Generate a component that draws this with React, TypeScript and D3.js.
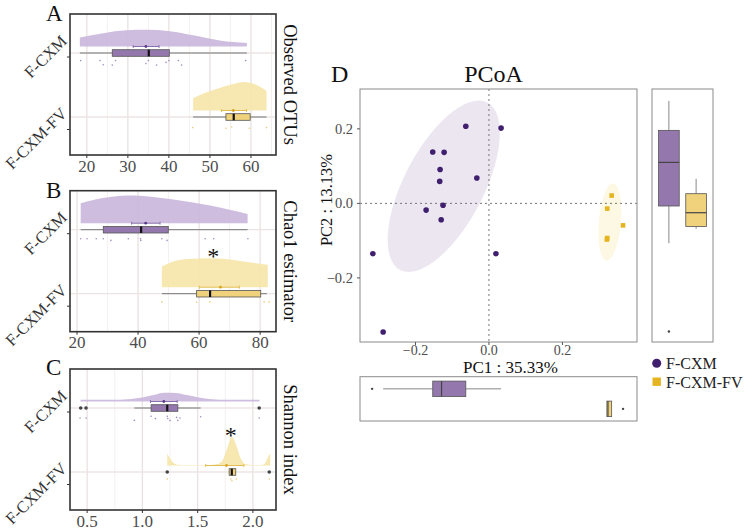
import React from 'react';
import * as d3 from 'd3';

const W = 749, H = 531;
const FONT = "'Liberation Serif', 'Times New Roman', serif";

const groups = ['F-CXM', 'F-CXM-FV'];
const fillDens = ['#c9b6da', '#f6e4a8'];
const fillBox = ['#9478ad', '#f0d27c'];
const dotCol = ['#8a70ad', '#e2bf55'];

// ---- panel A: Observed OTUs
const otuTicks = [20, 30, 40, 50, 60];
const otuMinor = [25, 35, 45, 55, 65];
const otuDensCXM = [[18.3, 0.31], [24, 0.46], [29.7, 0.56], [34.6, 0.575], [40.2, 0.53], [45.9, 0.39], [52.4, 0.21], [59, 0.12]];
const otuDensFV = [[45.9, 0.42], [48.7, 0.6], [51.6, 0.74], [55.7, 0.91], [58.1, 0.98], [61.4, 0.88], [63.8, 0.67]];
const otuStats = [
  { min: 18.3, q1: 26.2, med: 35.1, q3: 40.1, max: 59, lo: 31.3, mean: 34.4, hi: 37.6 },
  { min: 45.9, q1: 53.9, med: 55.8, q3: 59.8, max: 63.8, lo: 52.8, mean: 55.7, hi: 58.9 },
];
const otuPtsCXM = [18.5, 23.2, 24.0, 26.2, 27.0, 34.4, 35.0, 37.0, 39.3, 40.0, 42.3, 43.1, 58.7];
const otuJitCXM = [0.1, 0.1, 0.8, 0.85, 0.1, 0.6, 0.1, 0.85, 0.4, 0.1, 0.1, 0.85, 0.1];
const otuPtsFV = [45.8, 53.9, 55.3, 59.6, 63.8];
const otuJitFV = [0.6, 0.7, 0.5, 0.7, 0.6];

// ---- panel B: Chao1
const chaoTicks = [20, 40, 60, 80];
const chaoMinor = [30, 50, 70];
const chaoDensCXM = [[21.2, 0.69], [26, 0.82], [30.8, 0.9], [36.3, 0.955], [41.7, 0.94], [47, 0.88], [52.7, 0.8], [58, 0.71], [63.6, 0.61], [70, 0.46], [75.9, 0.32]];
const chaoDensFV = [[47.8, 0.71], [52.7, 0.92], [58, 0.98], [63, 1.0], [68, 0.98], [72, 0.93], [77, 0.85], [82.5, 0.77]];
const chaoStats = [
  { min: 21.2, q1: 28.6, med: 41.0, q3: 49.9, max: 75.9, lo: 37.9, mean: 42.5, hi: 47.2 },
  { min: 47.8, q1: 59.2, med: 63.6, q3: 80.2, max: 82.2, lo: 60.1, mean: 67.0, hi: 73.2 },
];
const chaoPtsCXM = [21.2, 23.3, 26.3, 28.6, 31.1, 36.8, 40.8, 40.9, 47.8, 49.5, 62.0, 64.8, 76.0];
const chaoJitCXM = [0.33, 0.33, 0.33, 0.33, 0.62, 0.33, 0.33, 0.62, 0.33, 0.62, 0.33, 0.33, 0.33];
const chaoPtsFV = [47.8, 59.2, 63.5, 81.3, 82.9];
const chaoJitFV = [0.2, 0.25, 0.2, 0.2, 0.2];

// ---- panel C: Shannon
const shanTicks = [0.5, 1.0, 1.5, 2.0];
const shanMinor = [0.75, 1.25, 1.75];
const shanDensCXM = [[0.44, 0.06], [0.7, 0.06], [0.9, 0.09], [1.0, 0.14], [1.1, 0.22], [1.2, 0.3], [1.3, 0.29], [1.4, 0.22], [1.5, 0.15], [1.6, 0.09], [1.8, 0.06], [2.06, 0.06]];
const shanDensFV = [[1.225, 0.41], [1.24, 0.31], [1.27, 0.14], [1.32, 0.03], [1.45, 0.02], [1.6, 0.02], [1.68, 0.05], [1.73, 0.21], [1.77, 0.62], [1.81, 1.0], [1.85, 0.69], [1.89, 0.24], [1.93, 0.05], [2.0, 0.02], [2.08, 0.02], [2.11, 0.07], [2.13, 0.24], [2.157, 0.41]];
const shanStats = [
  { min: 0.927, q1: 1.079, med: 1.225, q3: 1.321, max: 1.527, lo: 1.073, mean: 1.194, hi: 1.315 },
  { min: 1.785, q1: 1.785, med: 1.809, q3: 1.845, max: 1.845, lo: 1.573, mean: 1.761, hi: 1.918 },
];
const shanOutCXM = [0.442, 0.49, 2.057];
const shanOutFV = [1.225, 2.148];
const shanPtsCXM = [0.436, 0.49, 0.927, 1.079, 1.118, 1.225, 1.23, 1.25, 1.309, 1.321, 1.34, 1.527, 2.057];
const shanJitCXM = [0.5, 0.5, 0.9, 0.2, 0.6, 0.2, 0.6, 0.9, 0.4, 0.9, 0.5, 0.3, 0.5];
const shanPtsFV = [1.225, 1.80, 1.81, 1.85, 2.148];
const shanJitFV = [0.0, 0.0, 0.3, 0.0, 0.0];

// ---- panel D: PCoA
const pcTicks = [-0.2, 0.0, 0.2];
const cxmPC1 = [-0.063, 0.033, -0.153, -0.122, -0.133, -0.033, -0.134, -0.171, -0.125, -0.130, -0.316, 0.019, -0.288];
const cxmPC2 = [0.207, 0.202, 0.138, 0.137, 0.091, 0.068, 0.059, -0.018, -0.005, -0.044, -0.135, -0.135, -0.345];
const fvPC1 = [0.334, 0.322, 0.365, 0.321, 0.322];
const fvPC2 = [0.021, -0.014, -0.059, -0.097, -0.093];
const ellipses = [
  { cx: -0.123, cy: 0.046, a: 0.254, b: 0.108, angle: 62 },
  { cx: 0.329, cy: -0.05, a: 0.104, b: 0.03, angle: 85 },
];
const pc1Box = [
  { min: -0.288, q1: -0.153, med: -0.129, q3: -0.063, max: 0.033, out: [-0.318] },
  { min: 0.321, q1: 0.321, med: 0.324, q3: 0.334, max: 0.334, out: [0.365] },
];
const pc2Box = [
  { min: -0.107, q1: -0.007, med: 0.110, q3: 0.196, max: 0.275, out: [-0.344] },
  { min: -0.068, q1: -0.062, med: -0.025, q3: 0.026, max: 0.066, out: [] },
];

const rainPanels = [
  { letter: 'A', letterY: 21, title: 'Observed OTUs', top: 14, domain: [15.9, 66.1], ticks: otuTicks, minor: otuMinor, fmt: d3.format('d'),
    stats: otuStats, dens: [otuDensCXM, otuDensFV], pts: [otuPtsCXM, otuPtsFV], jit: [otuJitCXM, otuJitFV], out: [[], []], star: null },
  { letter: 'B', letterY: 198, title: 'Chao1 estimator', top: 190.7, domain: [17.7, 85.2], ticks: chaoTicks, minor: chaoMinor, fmt: d3.format('d'),
    stats: chaoStats, dens: [chaoDensCXM, chaoDensFV], pts: [chaoPtsCXM, chaoPtsFV], jit: [chaoJitCXM, chaoJitFV], out: [[], []], star: 64.6 },
  { letter: 'C', letterY: 375, title: 'Shannon index', top: 369, domain: [0.345, 2.209], ticks: shanTicks, minor: shanMinor, fmt: d3.format('.1f'),
    stats: shanStats, dens: [shanDensCXM, shanDensFV], pts: [shanPtsCXM, shanPtsFV], jit: [shanJitCXM, shanJitFV], out: [shanOutCXM, shanOutFV], star: 1.80 },
];

const PL = 70, PR = 276, PH = 141;
const DENS_PX = 29;

function Raincloud({ p }: any) {
  const x = d3.scaleLinear().domain(p.domain).range([PL, PR]);
  const yTick = d3.scalePoint().domain(groups).range([p.top + 43, p.top + 115.5]);
  const nudge = [4, 12.5];
  const h = d3.scaleLinear().domain([0, 1]).range([0, DENS_PX]);
  const bottom = p.top + PH;
  return (
    <g>
      <rect x={PL} y={p.top} width={PR - PL} height={PH} fill="#fff" />
      {p.minor.filter((v: number) => v > p.domain[0] && v < p.domain[1]).map((v: number) => (
        <line key={'m' + v} x1={x(v)} x2={x(v)} y1={p.top} y2={bottom} stroke="#f1ecec" strokeWidth={0.8} />
      ))}
      {p.ticks.map((v: number) => (
        <line key={'g' + v} x1={x(v)} x2={x(v)} y1={p.top} y2={bottom} stroke="#e9e2e2" strokeWidth={1.3} />
      ))}
      {groups.map((g, i) => {
        const cy = (yTick(g) as number) - nudge[i];
        return <line key={'hg' + g} x1={PL} x2={PR} y1={cy} y2={cy} stroke="#ece4e4" strokeWidth={1.3} />;
      })}
      {groups.map((g, i) => {
        const cy = (yTick(g) as number) - nudge[i];
        const base = cy - 6.5;
        const s = p.stats[i];
        const area = d3.area<number[]>().x(d => x(d[0])).y0(base).y1(d => base - h(d[1])).curve(d3.curveMonotoneX);
        return (
          <g key={g}>
            <path d={area(p.dens[i]) as string} fill={fillDens[i]} opacity={0.9} />
            <line x1={x(s.lo)} x2={x(s.hi)} y1={base} y2={base} stroke={dotCol[i]} strokeWidth={1} />
            <line x1={x(s.lo)} x2={x(s.lo)} y1={base - 1.5} y2={base + 1.5} stroke={dotCol[i]} strokeWidth={1} />
            <line x1={x(s.hi)} x2={x(s.hi)} y1={base - 1.5} y2={base + 1.5} stroke={dotCol[i]} strokeWidth={1} />
            <circle cx={x(s.mean)} cy={base} r={1.4} fill={i === 0 ? '#5a3c85' : '#d9a520'} />
            <line x1={x(s.min)} x2={x(s.max)} y1={cy} y2={cy} stroke="#777" strokeWidth={1} />
            <rect x={x(s.q1)} y={cy - 3.3} width={x(s.q3) - x(s.q1)} height={6.6} fill={fillBox[i]} stroke="#555" strokeWidth={0.8} />
            <line x1={x(s.med)} x2={x(s.med)} y1={cy - 3.3} y2={cy + 3.3} stroke="#111" strokeWidth={2.2} />
            {p.out[i].map((v: number, k: number) => (
              <circle key={'o' + k} cx={x(v)} cy={cy} r={1.8} fill="#444" />
            ))}
            {p.pts[i].map((v: number, k: number) => (
              <circle key={'p' + k} cx={x(v)} cy={cy + 7 + 6 * p.jit[i][k]} r={0.8} fill={dotCol[i]} opacity={0.8} />
            ))}
            {p.star !== null && i === 1 ? (
              <text x={x(p.star)} y={base - DENS_PX - 6 + 12} textAnchor="middle" fontFamily={FONT} fontSize={24} fill="#111">*</text>
            ) : null}
            <line x1={PL - 3} x2={PL} y1={yTick(g) as number} y2={yTick(g) as number} stroke="#333" strokeWidth={1} />
            <text transform={`translate(${68},${(yTick(g) as number) - 15}) rotate(-45)`} textAnchor="end" fontFamily={FONT} fontSize={16.5} fill="#333">{g}</text>
          </g>
        );
      })}
      <rect x={PL} y={p.top} width={PR - PL} height={PH} fill="none" stroke="#333" strokeWidth={1.6} />
      {p.ticks.map((v: number) => (
        <g key={'t' + v}>
          <line x1={x(v)} x2={x(v)} y1={bottom} y2={bottom + 3} stroke="#333" strokeWidth={1} />
          <text x={x(v)} y={bottom + 16.5} textAnchor="middle" fontFamily={FONT} fontSize={17} fill="#4d4d4d">{p.fmt(v)}</text>
        </g>
      ))}
      <text x={46} y={p.letterY} fontFamily={FONT} fontSize={23} fill="#111">{p.letter}</text>
      <text transform={`translate(290,${p.top + PH / 2}) rotate(90)`} textAnchor="middle" dominantBaseline="central" fontFamily={FONT} fontSize={18.5} fill="#111">{p.title}</text>
    </g>
  );
}

function PCoA() {
  const x = d3.scaleLinear().domain([-0.351, 0.403]).range([360, 637]);
  const y = d3.scaleLinear().domain([-0.372, 0.307]).range([342, 89]);
  const sideX = d3.scaleBand().domain(groups).range([652, 713]).paddingInner(0.24).paddingOuter(0.24);
  const sideY = d3.scaleBand().domain(groups).range([376.7, 421]).paddingInner(0.225).paddingOuter(0.22);
  const ellPath = (e: any) => {
    const th = (e.angle * Math.PI) / 180;
    const pts = d3.range(0, 2 * Math.PI, Math.PI / 60).map(t => [
      e.cx + e.a * Math.cos(th) * Math.cos(t) - e.b * Math.sin(th) * Math.sin(t),
      e.cy + e.a * Math.sin(th) * Math.cos(t) + e.b * Math.cos(th) * Math.sin(t),
    ]);
    return d3.line<number[]>().x(d => x(d[0])).y(d => y(d[1])).curve(d3.curveLinearClosed)(pts) as string;
  };
  const ellFill = ['#ece6f1', '#fdf8e3'];
  const fmt = (v: number) => d3.format('.1f')(v).replace('-', '\u2212');
  return (
    <g fontFamily={FONT}>
      <text x={331} y={82} fontSize={24} fill="#111">D</text>
      <text x={(360 + 637) / 2 - 5} y={82} textAnchor="middle" fontSize={24} fill="#111">PCoA</text>
      {ellipses.map((e, i) => <path key={'e' + i} d={ellPath(e)} fill={ellFill[i]} />)}
      <line x1={x(0)} x2={x(0)} y1={89} y2={342} stroke="#777" strokeWidth={1} strokeDasharray="2,3" />
      <line x1={360} x2={637} y1={y(0)} y2={y(0)} stroke="#777" strokeWidth={1} strokeDasharray="2,3" />
      {cxmPC1.map((v, k) => <circle key={'c' + k} cx={x(v)} cy={y(cxmPC2[k])} r={2.8} fill="#3f1f6e" />)}
      {fvPC1.map((v, k) => <rect key={'f' + k} x={x(v) - 2.3} y={y(fvPC2[k]) - 2.3} width={4.6} height={4.6} fill="#e5b521" />)}
      <rect x={360} y={89} width={277} height={253} fill="none" stroke="#8a8a8a" strokeWidth={1} />
      {pcTicks.map(v => (
        <g key={'x' + v}>
          <line x1={x(v)} x2={x(v)} y1={342} y2={345} stroke="#555" />
          <text x={x(v)} y={354.5} textAnchor="middle" fontSize={14} fill="#4d4d4d">{fmt(v)}</text>
          <line x1={357} x2={360} y1={y(v)} y2={y(v)} stroke="#555" />
          <text x={353} y={y(v)} textAnchor="end" dominantBaseline="central" fontSize={14.5} fill="#4d4d4d">{fmt(v)}</text>
        </g>
      ))}
      <text x={(360 + 637) / 2 + 12} y={372.5} textAnchor="middle" fontSize={17} fill="#111">PC1 : 35.33%</text>
      <text transform={`translate(326,200) rotate(-90)`} textAnchor="middle" dominantBaseline="central" fontSize={16.5} fill="#111">PC2 : 13.13%</text>

      {/* right: PC2 boxplots */}
      <rect x={652} y={89} width={61} height={253} fill="#fff" stroke="#8a8a8a" strokeWidth={1} />
      {pc2Box.map((s, i) => {
        const x0 = sideX(groups[i]) as number, bw = sideX.bandwidth(), cx = x0 + bw / 2;
        return (
          <g key={'rb' + i}>
            <line x1={cx} x2={cx} y1={y(s.max)} y2={y(s.q3)} stroke="#888" />
            <line x1={cx} x2={cx} y1={y(s.q1)} y2={y(s.min)} stroke="#888" />
            <rect x={x0} y={y(s.q3)} width={bw} height={y(s.q1) - y(s.q3)} fill={fillBox[i]} stroke="#555" strokeWidth={0.8} />
            <line x1={x0} x2={x0 + bw} y1={y(s.med)} y2={y(s.med)} stroke="#444" strokeWidth={1.2} />
            {s.out.map((v, k) => <circle key={k} cx={cx} cy={y(v)} r={1.2} fill="#444" />)}
          </g>
        );
      })}

      {/* bottom: PC1 boxplots */}
      <rect x={360} y={376.7} width={277} height={44.3} fill="#fff" stroke="#8a8a8a" strokeWidth={1} />
      {pc1Box.map((s, i) => {
        const y0 = sideY(groups[i]) as number, bh = sideY.bandwidth(), cy = y0 + bh / 2;
        return (
          <g key={'bb' + i}>
            <line x1={x(s.min)} x2={x(s.q1)} y1={cy} y2={cy} stroke="#888" />
            <line x1={x(s.q3)} x2={x(s.max)} y1={cy} y2={cy} stroke="#888" />
            <rect x={x(s.q1)} y={y0} width={x(s.q3) - x(s.q1)} height={bh} fill={fillBox[i]} stroke="#555" strokeWidth={0.8} />
            <line x1={x(s.med)} x2={x(s.med)} y1={y0} y2={y0 + bh} stroke="#444" strokeWidth={1.2} />
            {s.out.map((v, k) => <circle key={k} cx={x(v)} cy={cy} r={1.2} fill="#444" />)}
          </g>
        );
      })}

      {/* legend */}
      <circle cx={656.7} cy={363.3} r={4.5} fill="#3f1f6e" />
      <text x={666} y={369} fontSize={16} fill="#222">F-CXM</text>
      <rect x={652.5} y={377.5} width={8.4} height={8.4} fill="#e5b521" />
      <text x={666} y={387.5} fontSize={16} fill="#222">F-CXM-FV</text>
    </g>
  );
}

export default function App() {
  return (
    <svg width={W} height={H} style={{ position: 'absolute', left: 0, top: 0, background: '#fff' }}>
      <rect width={W} height={H} fill="#fff" />
      {rainPanels.map(p => <Raincloud key={p.letter} p={p} />)}
      <PCoA />
    </svg>
  );
}
